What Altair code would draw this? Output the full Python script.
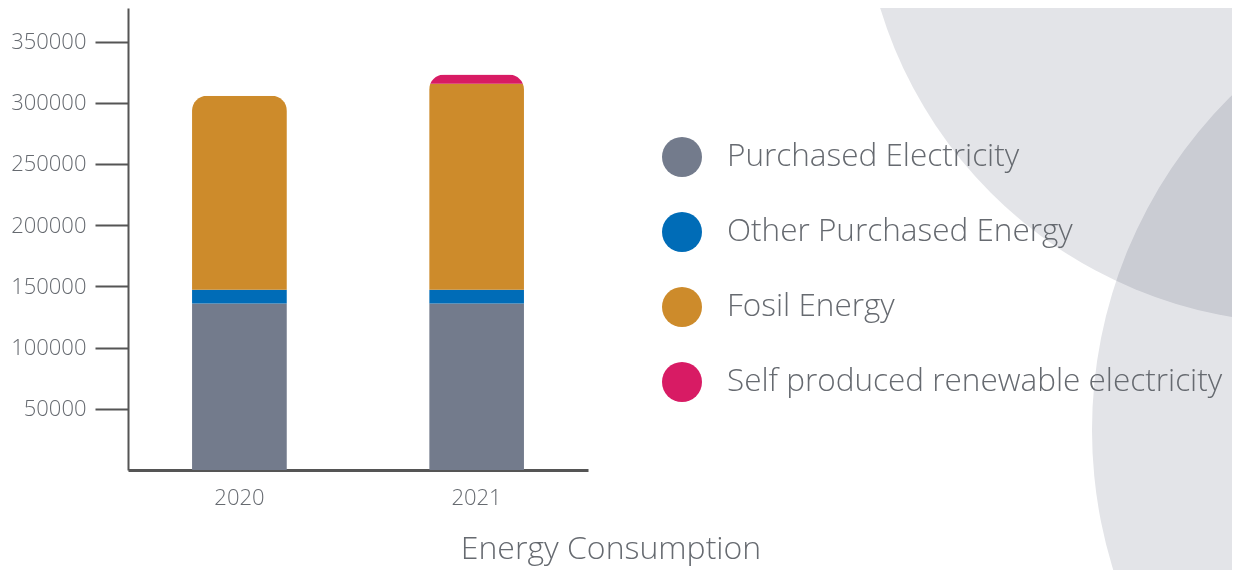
import altair as alt
import pandas as pd

years = ["2020", "2021"]
categories = [
    "Purchased Electricity",
    "Other Purchased Energy",
    "Fosil Energy",
    "Self produced renewable electricity",
]
colors = ["#737b8c", "#006cb7", "#cd8b2b", "#d81b64"]
purchased_electricity = [136000, 136000]
other_purchased_energy = [11300, 11300]
fosil_energy = [158500, 168300]
self_produced_renewable = [0, 7400]
y_ticks = [50000, 100000, 150000, 200000, 250000, 300000, 350000]
title_text = "Energy Consumption"

series = [purchased_electricity, other_purchased_energy, fosil_energy, self_produced_renewable]
rows = []
for ci, (cat, vals) in enumerate(zip(categories, series)):
    for yr, v in zip(years, vals):
        if v > 0:
            rows.append({"year": yr, "category": cat, "value": v, "idx": ci})
df = pd.DataFrame(rows)

FONT = "Open Sans"
TXT = "#666a70"
AX = "#555555"

# decorative background circles
c1 = alt.Chart(pd.DataFrame({"k": [0]})).mark_circle(
    color="#e3e4e8", opacity=1, blend="multiply"
).encode(x=alt.value(1177), y=alt.value(-129), size=alt.value(788544))
c2 = alt.Chart(pd.DataFrame({"k": [0]})).mark_circle(
    color="#e3e4e8", opacity=1, blend="multiply"
).encode(x=alt.value(1434), y=alt.value(422), size=alt.value(883600))

bars = alt.Chart(df).mark_bar(cornerRadiusTopLeft=15, cornerRadiusTopRight=15).encode(
    x=alt.X(
        "year:N",
        sort=years,
        scale=alt.Scale(paddingInner=0.6, paddingOuter=0.27),
        axis=alt.Axis(
            title=None, labelAngle=0, ticks=False, domainColor=AX, domainWidth=3,
            labelFont=FONT, labelFontWeight=300, labelFontSize=22, labelColor=TXT,
            labelPadding=17,
        ),
    ),
    y=alt.Y(
        "value:Q",
        stack="zero",
        scale=alt.Scale(domain=[0, 377400], nice=False, zero=True),
        axis=alt.Axis(
            title=None, values=y_ticks, format="d", grid=False,
            tickSize=33, tickWidth=2, tickColor=AX, domainColor=AX, domainWidth=2,
            labelFont=FONT, labelFontWeight=300, labelFontSize=22, labelColor=TXT,
            labelPadding=9,
        ),
    ),
    color=alt.Color(
        "category:N",
        scale=alt.Scale(domain=categories, range=colors),
        legend=alt.Legend(
            title=None, orient="none", legendX=534, legendY=129,
            symbolType="circle", symbolSize=1600, symbolStrokeWidth=0, symbolOpacity=1,
            labelFont=FONT, labelFontWeight=300, labelFontSize=31.5, labelColor=TXT,
            labelOffset=25, rowPadding=35, labelLimit=800, padding=0,
        ),
    ),
    order=alt.Order("idx:Q", sort="ascending"),
)

title = alt.Chart(pd.DataFrame({"t": [title_text]})).mark_text(
    font=FONT, fontWeight=300, fontSize=32, color=TXT, align="center", baseline="middle"
).encode(text="t:N", x=alt.value(483), y=alt.value(541))

chart = alt.layer(c1, c2, bars, title).properties(
    width=460,
    height=462,
    padding={"left": 120, "top": 0, "right": 644, "bottom": 100},
    autosize=alt.AutoSizeParams(type="none"),
).configure_view(strokeWidth=0)

chart.save("out.html", embed_options={"renderer": "svg", "actions": False})
